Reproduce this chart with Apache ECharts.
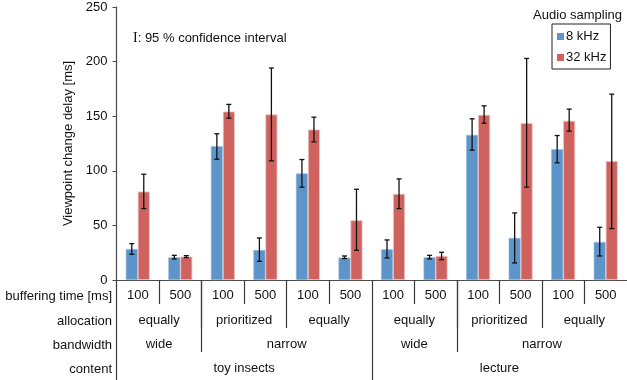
<!DOCTYPE html>
<html>
<head>
<meta charset="utf-8">
<script src="https://cdn.jsdelivr.net/npm/echarts@6/dist/echarts.min.js"></script>
<style>html,body{margin:0;padding:0;background:#fff}#c{width:627px;height:380px}</style>
</head>
<body>
<div id="c"></div>
<script>
var buffering = ['100','500','100','500','100','500','100','500','100','500','100','500'];
var allocation = ['','equally','','prioritized','','equally','','equally','','prioritized','','equally',''];
var bandwidth = ['','wide','','','narrow','','','wide','','','narrow','',''];
var content = ['','','','toy insects','','','','','','lecture','','',''];
var rowLabels = ['buffering time [ms]','allocation','bandwidth','content'];
var seriesNames = ['8 kHz','32 kHz'];
var yTicks = [0, 50, 100, 150, 200, 250];

var blue = [28.4, 20.8, 122.6, 27.5, 97.5, 20.5, 28.1, 20.8, 132.9, 38.5, 119.8, 34.8];
var blueLow = [23.5, 19.3, 110.6, 17.1, 85.0, 19.6, 20.2, 19.3, 118.9, 15.6, 107.3, 22.0];
var blueHigh = [33.3, 22.6, 133.9, 38.5, 110.3, 22.0, 36.7, 22.6, 147.6, 61.4, 132.3, 48.3];
var red = [81.0, 21.4, 154.3, 151.6, 137.8, 54.7, 78.9, 22.0, 151.3, 143.6, 145.8, 108.8];
var redLow = [65.4, 20.5, 148.2, 109.1, 126.5, 27.2, 65.4, 18.6, 143.6, 85.0, 136.3, 47.1];
var redHigh = [96.9, 22.3, 160.8, 194.1, 149.1, 83.1, 92.6, 25.4, 159.5, 202.9, 156.5, 170.2];

// separator boundaries per row
var sepBuffer = [1,3,5,7,9,11];
var sepAlloc = [2,4,8,10];
var sepBand = [2,8];
var sepContent = [0,6];

var FONT = '"Liberation Sans", Arial, sans-serif';
var BAR_W = 12;
var chart = echarts.init(document.getElementById('c'), null, {renderer:'canvas'});

function errSeries(lo, hi, side){
  var d = lo.map(function(v,i){ return [i, lo[i], hi[i]]; });
  return {
    type:'custom', xAxisIndex:0, yAxisIndex:0, z:10, silent:true,
    data:d,
    renderItem:function(params, api){
      var i = api.value(0);
      var pl = api.coord([i, api.value(1)]);
      var ph = api.coord([i, api.value(2)]);
      var x = pl[0] + side*BAR_W/2;
      var cw = 2.5;
      var st = {stroke:'#111', lineWidth:1.3};
      return {type:'group', children:[
        {type:'line', shape:{x1:x,y1:pl[1],x2:x,y2:ph[1]}, style:st},
        {type:'line', shape:{x1:x-cw,y1:pl[1],x2:x+cw,y2:pl[1]}, style:st},
        {type:'line', shape:{x1:x-cw,y1:ph[1],x2:x+cw,y2:ph[1]}, style:st}
      ]};
    }
  };
}

function sepAxis(data, seps, len, margin){
  return {
    type:'category', gridIndex:0, position:'bottom', offset:0, boundaryGap:false,
    data:data,
    axisLine:{show:false},
    axisTick:{show:true, length:len, inside:false,
      interval:function(idx){ return seps.indexOf(idx) >= 0; },
      lineStyle:{color:'#3a3a3a', width:1.2}},
    axisLabel:{show:true, margin:margin, fontSize:13, fontFamily:FONT, color:'#111',
      interval:function(idx, val){ return val !== ''; }},
    splitLine:{show:false}
  };
}

var option = {
  animation:false,
  textStyle:{fontFamily:FONT},
  grid:{left:116.5, right:0, top:7, bottom:100, containLabel:false},
  legend:{
    data:seriesNames, orient:'vertical', left:552, top:24,
    itemWidth:7, itemHeight:7, itemGap:8, icon:'rect',
    itemStyle:{borderWidth:0},
    borderColor:'#222', borderWidth:1, padding:[6,4,5,5],
    textStyle:{fontSize:13, fontFamily:FONT, color:'#111', padding:[0,0,0,-3]}
  },
  xAxis:[
    {type:'category', gridIndex:0, position:'bottom', data:buffering,
     axisLine:{show:true, lineStyle:{color:'#4a4a4a', width:1.2}},
     axisTick:{show:false},
     axisLabel:{margin:9, fontSize:13, fontFamily:FONT, color:'#111', interval:0},
     splitLine:{show:false}},
    sepAxis(allocation, sepBuffer, 24, 34),
    sepAxis(bandwidth, sepAlloc, 48, 58),
    sepAxis(content, sepBand, 72, 82),
    sepAxis(allocation.map(function(){return '';}), sepContent, 100, 0)
  ],
  yAxis:{
    type:'value', min:0, max:250, interval:50,
    name:'Viewpoint change delay [ms]', nameLocation:'middle', nameRotate:90, nameGap:37,
    nameTextStyle:{fontSize:13, fontFamily:FONT, color:'#111'},
    axisLine:{show:true, lineStyle:{color:'#4a4a4a', width:1.2}},
    axisTick:{show:true, length:4, inside:false, lineStyle:{color:'#4a4a4a'}},
    axisLabel:{margin:9, fontSize:13, fontFamily:FONT, color:'#111'},
    splitLine:{show:false}
  },
  series:[
    {name:seriesNames[0], type:'bar', xAxisIndex:0, data:blue, barWidth:BAR_W, barGap:'0%',
     itemStyle:{color:'#5d94ca', borderColor:'#9dbde0', borderWidth:0.6}},
    {name:seriesNames[1], type:'bar', xAxisIndex:0, data:red, barWidth:BAR_W, barGap:'0%',
     itemStyle:{color:'#cd625f', borderColor:'#f0c0bf', borderWidth:0.8}},
    errSeries(blueLow, blueHigh, -1),
    errSeries(redLow, redHigh, 1)
  ],
  graphic:[
    {type:'text', right:5, top:9, style:{text:'Audio sampling', font:'13px '+FONT, fill:'#111'}},
    {type:'text', left:133, top:31, style:{
      text:'{s|I}: 95 % confidence interval',
      font:'13px '+FONT, fill:'#111',
      rich:{s:{fontFamily:'"Liberation Serif", "DejaVu Serif", serif', fontSize:14, fill:'#111'}}
    }},
    {type:'text', x:112, y:296, style:{text:rowLabels[0], font:'13px '+FONT, fill:'#111', align:'right', verticalAlign:'middle'}},
    {type:'text', x:112, y:321, style:{text:rowLabels[1], font:'13px '+FONT, fill:'#111', align:'right', verticalAlign:'middle'}},
    {type:'text', x:112, y:345, style:{text:rowLabels[2], font:'13px '+FONT, fill:'#111', align:'right', verticalAlign:'middle'}},
    {type:'text', x:112, y:369, style:{text:rowLabels[3], font:'13px '+FONT, fill:'#111', align:'right', verticalAlign:'middle'}}
  ]
};
chart.setOption(option);
</script>
</body>
</html>
